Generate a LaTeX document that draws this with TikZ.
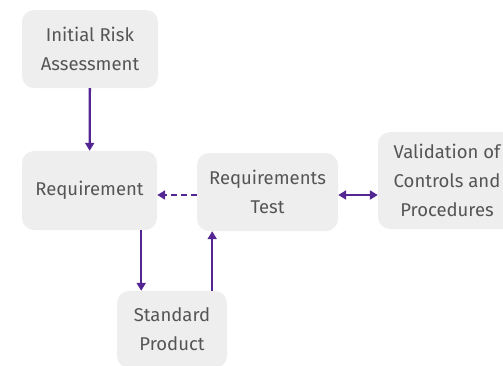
\documentclass[tikz,border=0pt]{standalone}
\usepackage{fontspec}
\setmainfont{Fira Sans}
\usepackage{tikz}
\usetikzlibrary{arrows.meta}
\definecolor{boxgray}{RGB}{238,238,238}
\definecolor{txtgray}{RGB}{85,85,85}
\definecolor{flowpurple}{RGB}{84,38,148}

\begin{document}
\begin{tikzpicture}[
        x=1pt,y=-1pt,
        every node/.style={fill=boxgray,rounded corners=12pt,align=center,
          text=txtgray,font=\fontsize{18.5}{29}\selectfont,inner sep=0pt},
        tip/.style={Triangle[length=8pt,width=9pt]},
        arr/.style={draw=flowpurple,line width=2.3pt,-{Triangle[length=8pt,width=9pt]}},
      ]
      \useasboundingbox (0,0) rectangle (503,365);
      % boxes
      \node[minimum width=136pt,minimum height=78pt] (risk) at (90,49) {Initial Risk\\Assessment};
      \node[minimum width=135pt,minimum height=79pt] (req) at (89.5,190.5) {Requirement};
      \node[minimum width=141pt,minimum height=78pt] (test) at (267.5,192) {Requirements\\Test};
      \node[minimum width=138pt,minimum height=97pt] (valid) at (447,180.5) {Validation of\\Controls and\\Procedures};
      \node[minimum width=110pt,minimum height=77pt] (std) at (172,329.5) {Standard\\Product};
      % connectors
      \draw[arr] (risk) -- (req);
      \draw[arr,dash pattern=on 6pt off 4pt] ([yshift=-3]test.west) -- ([yshift=-3]test.west -| req.east);
      \draw[arr,{Triangle[length=8pt,width=9pt]}-{Triangle[length=8pt,width=9pt]}] ([yshift=-3]test.east) -- ([yshift=-3]test.east -| valid.west);
      \draw[arr] ([xshift=-16]req.south east) -- ([xshift=-16]req.south east |- std.north);
      \draw[arr] ([xshift=-15]std.north east) -- ([xshift=-15]std.north east |- test.south);
    \end{tikzpicture}
\end{document}
